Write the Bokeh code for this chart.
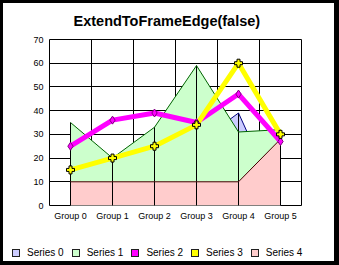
from bokeh.plotting import figure
from bokeh.layouts import column
from bokeh.models import FixedTicker, Div
from bokeh.embed import file_html
from bokeh.resources import INLINE

title_text = "ExtendToFrameEdge(false)"
groups = ["Group 0", "Group 1", "Group 2", "Group 3", "Group 4", "Group 5"]
series_names = ["Series 0", "Series 1", "Series 2", "Series 3", "Series 4"]
series0 = [30, 15, 20, 26, 39, 0]
series1 = [35, 20, 33, 59, 31, 32]
series2 = [25, 36, 39, 35, 47, 27]
series3 = [15, 20, 25, 34, 60, 30]
series4 = [10, 10, 10, 10, 10, 28]
y_ticks = [0, 10, 20, 30, 40, 50, 60, 70]
legend_colors = ["#ccccff", "#ccffcc", "#ff00ff", "#ffff00", "#ffcccc"]

x = list(range(len(groups)))
FONT = "Liberation Sans"

p = figure(width=331, height=236, x_range=(-0.5, 5.5), y_range=(0, 70),
           output_backend="svg", toolbar_location=None,
           min_border_left=46, min_border_right=33, min_border_top=36,
           min_border_bottom=34, title=title_text)
p.background_fill_color = "white"
p.border_fill_color = "white"
p.outline_line_color = "black"
p.outline_line_alpha = 1
p.outline_line_width = 1

p.title.text_font = FONT
p.title.text_font_size = "14.5px"
p.title.text_font_style = "bold"
p.title.align = "left"
p.title.offset = 24
p.title.vertical_align = "top"
p.title.standoff = 18
p.title.text_color = "black"

p.xgrid.ticker = FixedTicker(ticks=[i - 0.5 for i in range(len(groups) + 1)])
p.ygrid.ticker = FixedTicker(ticks=y_ticks)
for g in (p.xgrid, p.ygrid):
    g.grid_line_color = "black"
    g.grid_line_alpha = 1
    g.grid_line_width = 1

p.xaxis.ticker = FixedTicker(ticks=x)
p.xaxis.major_label_overrides = {i: groups[i] for i in x}
p.yaxis.ticker = FixedTicker(ticks=y_ticks)
for ax in (p.xaxis, p.yaxis):
    ax.axis_line_color = None
    ax.major_tick_line_color = None
    ax.minor_tick_line_color = None
    ax.major_tick_out = 0
    ax.major_tick_in = 0
    ax.minor_tick_out = 0
    ax.major_label_text_font = FONT
    ax.major_label_text_font_size = "9px"
    ax.major_label_text_color = "black"
p.xaxis.major_label_standoff = 5
p.yaxis.major_label_standoff = 6

def area(vals, fill, edge):
    p.varea(x=x, y1=[0] * len(vals), y2=vals, fill_color=fill, fill_alpha=1)
    p.segment(x0=x, y0=[0] * len(vals), x1=x, y1=vals, line_color="black", line_width=1)
    p.line(x, vals, line_color=edge, line_width=1)

area(series0, "#ccccff", "#000080")
area(series1, "#ccffcc", "#006400")
area(series4, "#ffcccc", "#400000")

p.line(x, series2, line_color="#ff00ff", line_width=5)
p.line(x, series3, line_color="#ffff00", line_width=5)
p.scatter(x, series2, marker="diamond", size=8, fill_color="#ff00ff", line_color="#800080")
p.scatter(x, series3, marker="plus", size=8, fill_color="#ffff00", line_color="black")

# legend strip below the chart (real text, HTML swatches)
parts = []
for name, c in zip(series_names, legend_colors):
    parts.append(
        '<span style="display:inline-block;width:8px;height:8px;box-sizing:border-box;'
        'border:1px solid #202020;background:%s;margin-right:7px;vertical-align:-1px;"></span>'
        '<span style="display:inline-block;margin-right:8px;">%s</span>' % (c, name))
html = ('<div style="padding:8px 0 0 9px;line-height:12px;height:22px;box-sizing:border-box;'
        'white-space:nowrap;font-family:\'Liberation Sans\';font-size:10px;color:black;'
        'background:white;">' + "".join(parts) + '</div>')
legend_div = Div(text=html, width=331, height=22, margin=(0, 0, 0, 0))

layout = column(p, legend_div, width=339, height=265, spacing=0)
layout.styles = {"border-style": "solid", "border-color": "black",
                 "border-width": "3px 5px 4px 3px", "background-color": "white"}

open("out.html", "w").write(file_html(layout, INLINE))
